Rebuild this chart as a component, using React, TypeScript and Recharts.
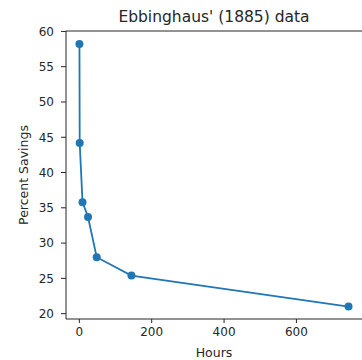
import { LineChart, Line, XAxis, YAxis, ReferenceLine } from 'recharts';

// Ebbinghaus retention measurements
const hours = [0.33, 1, 8.8, 24, 48, 144, 744];
const savings = [58.2, 44.2, 35.8, 33.7, 28.0, 25.4, 21.0];
const xTicks = [0, 200, 400, 600];
const yTicks = [20, 25, 30, 35, 40, 45, 50, 55, 60];

const X_DOMAIN: [number, number] = [-36.85, 781.2];
const Y_DOMAIN: [number, number] = [19.24, 60.06];

const font = 'DejaVu Sans, sans-serif';
const axisColor = '#262626';

export default function App() {
  const data = hours.map((h, i) => ({ hours: h, savings: savings[i] }));

  return (
    <div style={{ position: 'absolute', left: 0, top: 0, width: 362, height: 360, background: '#fff', fontFamily: font }}>
      <div
        style={{
          position: 'absolute', top: 7, left: 66, width: 296, textAlign: 'center',
          fontSize: 15.5, color: axisColor, lineHeight: '20px',
        }}
      >
        Ebbinghaus' (1885) data
      </div>
      <LineChart width={362} height={360} data={data} margin={{ top: 31, right: 0, bottom: 0, left: 0 }}>
        <XAxis
          dataKey="hours"
          type="number"
          domain={X_DOMAIN}
          ticks={xTicks}
          allowDataOverflow
          height={41}
          tickSize={4}
          tickMargin={4}
          stroke={axisColor}
          tick={{ fill: axisColor, fontSize: 12, fontFamily: font }}
          label={{ value: 'Hours', position: 'insideBottom', offset: 3, fill: axisColor, fontSize: 12.5, fontFamily: font }}
        />
        <YAxis
          type="number"
          domain={Y_DOMAIN}
          ticks={yTicks}
          allowDataOverflow
          width={66}
          tickSize={5}
          tickMargin={7}
          stroke={axisColor}
          tick={{ fill: axisColor, fontSize: 12, fontFamily: font }}
          label={{
            value: 'Percent Savings', angle: -90, position: 'insideLeft', offset: 24,
            fill: axisColor, fontSize: 12.5, fontFamily: font, style: { textAnchor: 'middle' },
          }}
        />
        {/* top spine; the right one falls just past the picture's edge */}
        <ReferenceLine y={Y_DOMAIN[1]} stroke={axisColor} strokeWidth={1} />
        <Line
          dataKey="savings"
          type="linear"
          stroke="#1f77b4"
          strokeWidth={1.8}
          dot={{ r: 4, fill: '#1f77b4', stroke: '#1f77b4', strokeWidth: 0 }}
          isAnimationActive={false}
        />
      </LineChart>
    </div>
  );
}
